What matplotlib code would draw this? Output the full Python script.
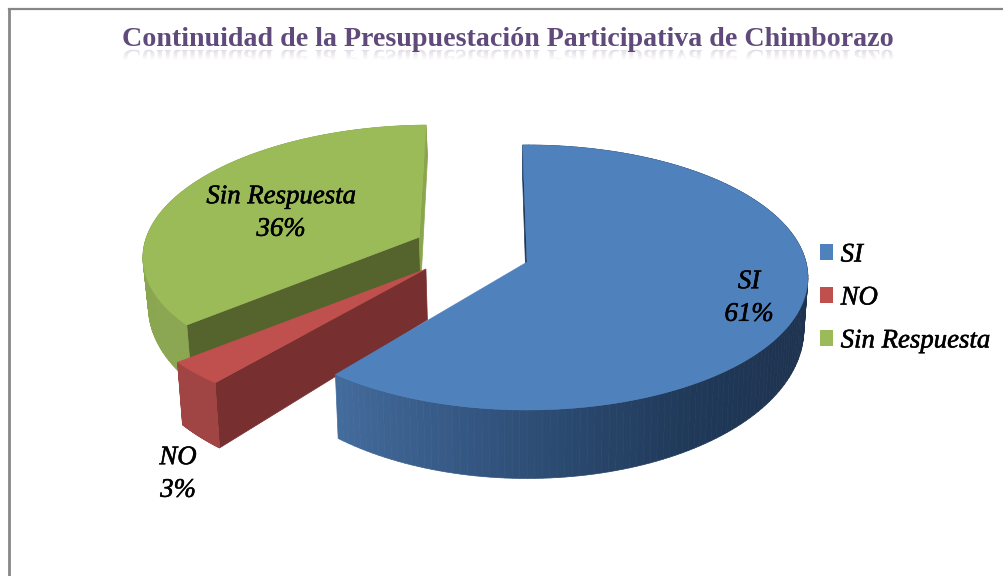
import numpy as np
import matplotlib
matplotlib.use("Agg")
import matplotlib.pyplot as plt
import matplotlib.patheffects as pe
from matplotlib.collections import PolyCollection
from matplotlib.colors import to_rgb
from matplotlib.font_manager import FontProperties
from matplotlib.patches import Patch, PathPatch
from matplotlib.textpath import TextPath
from matplotlib.transforms import Affine2D

title = "Continuidad de la Presupuestación Participativa de Chimborazo"
names = ["SI", "NO", "Sin Respuesta"]
values = [61, 3, 36]
pct_labels = ["61%", "3%", "36%"]

top_colors = ["#4f81bd", "#c0504d", "#9bbb59"]
start_wall_colors = ["#1f3654", "#772f2f", "#55632d"]
end_wall_colors = [None, None, "#8aa64c"]
arc_stops = [["#436b9c", "#2f4f78", "#203a5a", "#1e3350"],
             ["#a04543", "#a04543", "#953b3b", "#953b3b"],
             ["#8aa650", "#8aa650", "#7f9a48", "#7f9a48"]]
arc_stop_x = [335, 520, 680, 800]

# how far each slice is pulled out, in units of the pie radius
explode = [(0.0, 0.0), (-0.36, 0.053), (-0.395, -0.194)]
stretch = [1.0, 1.04, 1.0]
label_pos = [(749, 298), (178, 474), (281, 213)]

# perspective pie: plane is (y of centre, x radius, y radius)
CX = 527
K = 0.117
TOP_PLANE = (262, 279, 130.7)
BOTTOM_PLANE = (312, 275, 147)
START_ANGLE = np.radians(-1.0)


def project(u, v, plane):
    y0, rx, ry = plane
    w = 1 - K * v
    return CX + rx * u / w, y0 + ry * v / w


def flat_wall(ax, a, offset, s, color, zorder):
    u = np.array([offset[0], s * np.sin(a) + offset[0]])
    v = np.array([offset[1], -np.cos(a) + offset[1]])
    xt, yt = project(u, v, TOP_PLANE)
    xb, yb = project(u, v, BOTTOM_PLANE)
    ax.fill([xt[0], xt[1], xb[1], xb[0]], [yt[0], yt[1], yb[1], yb[0]],
            color=color, lw=0.5, zorder=zorder)


def draw_slice(ax, i, a0, a1):
    offset = explode[i]
    s = stretch[i]
    z = i_order[i] * 10
    if start_wall_colors[i]:
        flat_wall(ax, a0, offset, s, start_wall_colors[i], z)
    if end_wall_colors[i]:
        flat_wall(ax, a1, offset, s, end_wall_colors[i], z)

    # outer wall, small quads so it can carry the gradient
    angles = np.linspace(a0, a1, 160)
    u = s * np.sin(angles) + offset[0]
    v = -np.cos(angles) + offset[1]
    xt, yt = project(u, v, TOP_PLANE)
    xb, yb = project(u, v, BOTTOM_PLANE)
    quads = []
    colors = []
    stops = np.array([to_rgb(c) for c in arc_stops[i]])
    for j in range(len(u) - 1):
        quads.append([(xt[j], yt[j]), (xt[j + 1], yt[j + 1]),
                      (xb[j + 1], yb[j + 1]), (xb[j], yb[j])])
        xm = (xt[j] + xt[j + 1]) / 2
        colors.append([np.interp(xm, arc_stop_x, stops[:, c]) for c in range(3)])
    ax.add_collection(PolyCollection(quads, facecolors=colors, edgecolors=colors,
                                     linewidths=0.5, zorder=z + 1))

    # top face
    xs = np.concatenate([[project(offset[0], offset[1], TOP_PLANE)[0]], xt])
    ys = np.concatenate([[project(offset[0], offset[1], TOP_PLANE)[1]], yt])
    ax.fill(xs, ys, color=top_colors[i], lw=0.3, zorder=z + 2)


# green at the back, then red, then blue in front
i_order = [3, 2, 1]

fig = plt.figure(figsize=(10.04, 5.76), dpi=100, facecolor="white")
ax = fig.add_axes([0, 0, 1, 1])
ax.set_xlim(0, 1004)
ax.set_ylim(576, 0)
ax.axis("off")

# frame, only top and left show
ax.plot([9.5, 1004], [9, 9], color="#868686", lw=1.6, zorder=1)
ax.plot([9.5, 9.5], [9, 576], color="#868686", lw=2.0, zorder=1)

edges = START_ANGLE + np.concatenate([[0], np.cumsum(values)]) / sum(values) * 2 * np.pi
for i in range(len(values)):
    draw_slice(ax, i, edges[i], edges[i + 1])

serif = "Liberation Serif"
heavier = [pe.withStroke(linewidth=0.4, foreground="black")]
for name, pct, pos in zip(names, pct_labels, label_pos):
    ax.text(pos[0], pos[1], name + "\n" + pct, family=serif, style="italic", size=19.3,
            ha="center", va="center", linespacing=1.4, color="black", zorder=50,
            path_effects=heavier)

# title and its fading reflection
ax.text(508, 46, title, family=serif, weight="bold", size=20.2, color="#604a7b",
        ha="center", va="baseline", zorder=50)
fp = FontProperties(family=serif, weight="bold", size=20.2)
tp = TextPath((0, 0), title, prop=fp)
ext = tp.get_extents()
scale = 100 / 72
refl = Affine2D().scale(scale, scale).translate(508 - ext.width * scale / 2 - ext.x0 * scale, 50)
ax.add_patch(PathPatch(tp, transform=refl + ax.transData, facecolor="#604a7b",
                       edgecolor="none", alpha=0.2, zorder=40))
fade = np.ones((32, 2, 4))
fade[:, :, 3] = np.clip(np.linspace(0.1, 3.0, 32), 0, 1)[:, None]
ax.imshow(fade, extent=(100, 930, 82, 50), aspect="auto", zorder=41)
ax.set_xlim(0, 1004)
ax.set_ylim(576, 0)

handles = [Patch(facecolor=c, edgecolor="none") for c in top_colors]
legend = ax.legend(handles, names, loc="center left", bbox_to_anchor=(820 / 1004, 1 - 298 / 576),
                   frameon=False, prop=FontProperties(family=serif, style="italic", size=19.3),
                   handlelength=0.5, handleheight=0.5, handletextpad=0.27, labelspacing=0.67,
                   borderpad=0, borderaxespad=0)
for text in legend.get_texts():
    text.set_path_effects(heavier)

fig.savefig("out.png", dpi=100)
